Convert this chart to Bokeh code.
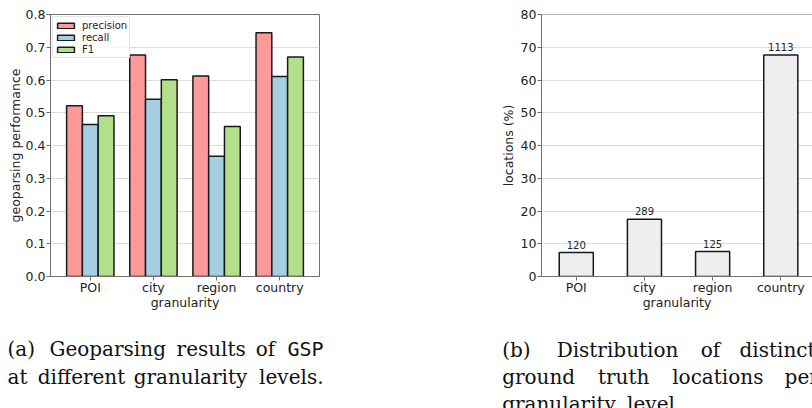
from bokeh.plotting import figure
from bokeh.models import Range1d, FixedTicker, NumeralTickFormatter, Span
from bokeh.layouts import column, row
from bokeh.embed import file_html
from bokeh.resources import INLINE
from bokeh.core.properties import value

# ---------------- data ----------------
categories = ["POI", "city", "region", "country"]
precision = [0.521, 0.676, 0.612, 0.744]
recall = [0.464, 0.541, 0.367, 0.611]
f1 = [0.491, 0.601, 0.458, 0.670]
yticks_a = [0.0, 0.1, 0.2, 0.3, 0.4, 0.5, 0.6, 0.7, 0.8]

loc_pct = [7.3, 17.5, 7.6, 67.6]
loc_count = [120, 289, 125, 1113]
yticks_b = [0, 10, 20, 30, 40, 50, 60, 70, 80]

# ---------------- style ----------------
SPINE = "#707070"
TXT = "#222222"
GRID = "#dcdcdc"
FONT = "DejaVu Sans"
C_PREC = "#fb9a99"
C_REC = "#a6cee3"
C_F1 = "#b2df8a"
C_LOC = "#eeeeee"
EDGE = "#1a1a1a"


def style(p):
    p.outline_line_color = SPINE
    p.background_fill_color = "white"
    p.border_fill_color = "white"
    for ax in p.axis:
        ax.axis_line_color = SPINE
        ax.major_tick_line_color = SPINE
        ax.minor_tick_line_color = None
        ax.major_tick_in = 0
        ax.major_tick_out = 4
        ax.major_label_text_font = FONT
        ax.major_label_text_font_size = "12.5px"
        ax.major_label_text_color = TXT
        ax.axis_label_text_font = FONT
        ax.axis_label_text_font_size = "12.5px"
        ax.axis_label_text_font_style = "normal"
        ax.axis_label_text_color = TXT
        ax.major_label_standoff = 1
        ax.axis_label_standoff = 0
    p.xaxis.major_label_standoff = -1
    p.xaxis.axis_label_standoff = -3
    p.xgrid.visible = False
    p.ygrid.grid_line_color = GRID


idx = list(range(len(categories)))
xlabels = {i: c for i, c in enumerate(categories)}

# ---------------- chart (a) ----------------
pa = figure(width=338, height=318, x_range=Range1d(-0.63, 3.63), y_range=Range1d(0, 0.8),
            output_backend="svg", toolbar_location=None,
            min_border_left=50, min_border_right=19, min_border_top=14, min_border_bottom=42)
bw = 0.25
pa.vbar(x=[i - bw for i in idx], top=precision, width=bw, fill_color=C_PREC,
        line_color=EDGE, line_width=1.5, legend_label="precision")
pa.vbar(x=idx, top=recall, width=bw, fill_color=C_REC,
        line_color=EDGE, line_width=1.5, legend_label="recall")
pa.vbar(x=[i + bw for i in idx], top=f1, width=bw, fill_color=C_F1,
        line_color=EDGE, line_width=1.5, legend_label="F1")
style(pa)
ta = FixedTicker(ticks=yticks_a)
pa.yaxis.ticker = ta
pa.ygrid.ticker = ta
pa.yaxis.formatter = NumeralTickFormatter(format="0.0")
pa.xaxis.ticker = FixedTicker(ticks=idx)
pa.xaxis.major_label_overrides = xlabels
pa.yaxis.axis_label = "geoparsing performance"
pa.xaxis.axis_label = "granularity"

lg = pa.legend[0]
lg.location = "top_left"
lg.margin = 2
lg.padding = 2
lg.spacing = 0
lg.label_height = 12
lg.glyph_height = 7
lg.glyph_width = 21
lg.label_standoff = 6
lg.label_text_font = FONT
lg.label_text_font_size = "10px"
lg.label_text_color = TXT
lg.border_line_color = "#cccccc"
lg.background_fill_alpha = 0.8

# ---------------- chart (b) ----------------
pb = figure(width=474, height=318, x_range=Range1d(-0.51, 3.465), y_range=Range1d(0, 80),
            output_backend="svg", toolbar_location=None,
            min_border_left=203, min_border_right=0, min_border_top=10, min_border_bottom=42)
pb.vbar(x=idx, top=loc_pct, width=0.5, fill_color=C_LOC, line_color=EDGE, line_width=1.5)
pb.text(x=idx, y=loc_pct, text=[str(c) for c in loc_count], text_align="center",
        text_baseline="alphabetic", y_offset=-8, text_font=value(FONT),
        text_font_size="10px", text_color=TXT)
style(pb)
pb.outline_line_color = None
pb.add_layout(Span(location=80, dimension="width", line_color=SPINE, line_width=1))
tb = FixedTicker(ticks=yticks_b)
pb.yaxis.ticker = tb
pb.ygrid.ticker = tb
pb.xaxis.ticker = FixedTicker(ticks=idx)
pb.xaxis.major_label_overrides = xlabels
pb.yaxis.axis_label = "locations (%)"
pb.xaxis.axis_label = "granularity"
pb.yaxis.axis_label_standoff = 2

# ---------------- captions ----------------
cap_words_left = [
    ("(a)", 7, 348.5), ("at", 7, 376),
    ("(b)", 501.7, 349), ("distinct", 739, 349),
    ("ground", 501.7, 376), ("per", 784.1, 376),
    ("granularity", 501.7, 403.5), ("level.", 626.6, 403.5),
]
cap_words_center = [
    ("Geoparsing", 107.2, 348.5), ("results", 210.7, 348.5), ("of", 265, 348.5),
    ("different", 81, 376), ("granularity", 190, 376),
    ("Distribution", 617, 349), ("of", 710, 349),
    ("truth", 623.2, 376), ("locations", 717.3, 376),
]
cap_words_right = [("levels.", 323, 376)]
cap_mono = [("GSP", 323, 348.5)]

pc = figure(width=812, height=90, x_range=Range1d(0, 812), y_range=Range1d(408, 318),
            x_axis_location=None, y_axis_location=None, output_backend="svg",
            toolbar_location=None, min_border=0, outline_line_color=None)
pc.xgrid.visible = False
pc.ygrid.visible = False
SERIF = value("DejaVu Serif")
for words, align in ((cap_words_left, "left"), (cap_words_center, "center"), (cap_words_right, "right")):
    pc.text(x=[w[1] for w in words], y=[w[2] for w in words], text=[w[0] for w in words],
            text_align=align, text_baseline="alphabetic", text_font=SERIF,
            text_font_size="20px", text_color="#111111")
pc.text(x=[w[1] for w in cap_mono], y=[w[2] for w in cap_mono], text=[w[0] for w in cap_mono],
        text_align="right", text_baseline="alphabetic", text_font=value("DejaVu Sans Mono"),
        text_font_size="20px", text_color="#111111")

layout = column(row(pa, pb), pc)
open("out.html", "w").write(file_html(layout, INLINE))
